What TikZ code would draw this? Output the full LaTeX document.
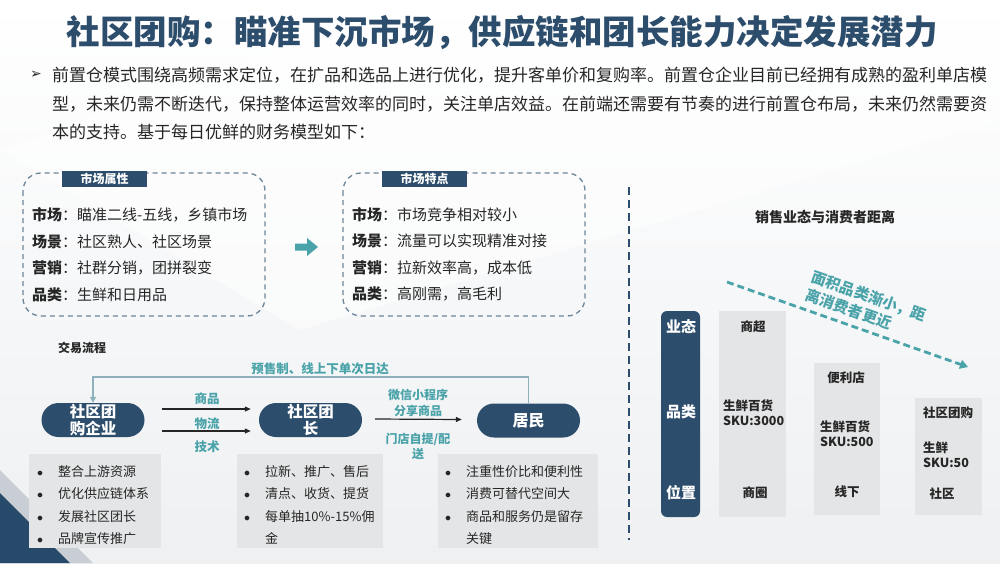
\documentclass[tikz,border=0pt]{standalone}
\usepackage{fontspec}
\setmainfont{Noto Sans CJK SC}
\newfontfamily\dejavu{DejaVu Sans}
\usetikzlibrary{arrows.meta,calc}
\definecolor{navy}{HTML}{2C4D6C}
\definecolor{tealc}{HTML}{4AA3A9}
\definecolor{dashc}{HTML}{6D8599}
\definecolor{fbline}{HTML}{8EB1BB}
\definecolor{grayfill}{HTML}{E4E5E6}
\definecolor{txt}{HTML}{262626}
\definecolor{bgc}{HTML}{EEF0F2}
\definecolor{bandc}{HTML}{C9CED4}
\definecolor{darkc}{HTML}{27496A}
\newcommand\myblt{$\bullet$}
\begin{document}
\begin{tikzpicture}[x=1pt,y=-1pt,
  dashbox/.style={draw=dashc, line width=1.3pt, dash pattern=on 5pt off 4pt, rounded corners=18pt},
  hdr/.style={fill=navy, text=white, font=\fontsize{12}{12}\selectfont\bfseries, minimum width=85pt, minimum height=16pt, inner sep=0pt},
  boxtxt/.style={text=txt, font=\fontsize{15}{26.5}\selectfont, align=left, inner sep=0pt, anchor=west},
  pill/.style={fill=navy, text=white, rounded corners=17pt, minimum width=103pt, minimum height=34pt, inner sep=0pt, align=center, font=\fontsize{15.5}{17}\selectfont\bfseries},
  lbl/.style={text=tealc, font=\fontsize{12.5}{16}\selectfont\bfseries, align=center, inner sep=0pt},
  flowarr/.style={draw=txt, line width=1.2pt, -{Triangle[length=6pt,width=5pt]}},
  grayb/.style={fill=grayfill},
  blist/.style={text=txt, font=\fontsize{13}{22.4}\selectfont, inner sep=0pt, anchor=west},
  colb/.style={fill=grayfill},
  coltxt/.style={text=txt, font=\fontsize{12.5}{15}\selectfont\bfseries, inner sep=0pt, align=left},
  axtxt/.style={text=white, font=\fontsize{15}{15}\selectfont\bfseries, inner sep=0pt}
]
\useasboundingbox (0,0) rectangle (1000,563);
% background
\shade[top color=white, bottom color=bgc] (0,0) rectangle (1000,563);
\fill[white, opacity=0.5] (0,150) -- (420,0) -- (1000,0) -- (1000,120) -- (300,330) -- cycle;
\fill[bandc] (0,470) -- (93,563) -- (0,563) -- cycle;
\fill[darkc] (0,493) -- (70,563) -- (0,563) -- cycle;

% title
\node[text=navy, font=\fontsize{33.5}{36}\selectfont\bfseries, inner sep=0pt] (title) at (502,33) {社区团购：瞄准下沉市场，供应链和团长能力决定发展潜力};
% paragraph
\node[text=txt, font=\fontsize{14}{14}\selectfont\dejavu, inner sep=0pt] (pm) at (36,75) {➢};
\node[text=txt, font=\fontsize{17}{28.5}\selectfont, align=left, inner sep=0pt, anchor=west] (para) at (52,103.5)
 {前置仓模式围绕高频需求定位，在扩品和选品上进行优化，提升客单价和复购率。前置仓企业目前已经拥有成熟的盈利单店模\\
  型，未来仍需不断迭代，保持整体运营效率的同时，关注单店效益。在前端还需要有节奏的进行前置仓布局，未来仍然需要资\\
  本的支持。基于每日优鲜的财务模型如下：};

% market boxes
\draw[dashbox] (23,173) rectangle (265,316);
\node[hdr] (h1) at (104.5,179) {市场属性};
\node[boxtxt] (bt1) at (32,254.5) {\textbf{市场}：瞄准二线-五线，乡镇市场\\\textbf{场景}：社区熟人、社区场景\\\textbf{营销}：社群分销，团拼裂变\\\textbf{品类}：生鲜和日用品};
\draw[dashbox] (343,173) rectangle (585,316);
\node[hdr] (h2) at (424.5,179) {市场特点};
\node[boxtxt] (bt2) at (352,254.5) {\textbf{市场}：市场竞争相对较小\\\textbf{场景}：流量可以实现精准对接\\\textbf{营销}：拉新效率高，成本低\\\textbf{品类}：高刚需，高毛利};
\fill[tealc] (295,243.5) -- (307,243.5) -- (307,238) -- (318,247) -- (307,256) -- (307,250.5) -- (295,250.5) -- cycle;

% flow
\node[text=txt, font=\fontsize{12}{12}\selectfont\bfseries, inner sep=0pt, anchor=west] (jl) at (58,348) {交易流程};
\node[pill] (p1) at (93,420) {社区团\\购企业};
\node[pill] (p2) at (310.5,420) {社区团\\长};
\node[pill, font=\fontsize{16}{17}\selectfont\bfseries] (p3) at (528.5,420.5) {居民};
\draw[fbline, line width=1.3pt, -{Triangle[length=6pt,width=6pt]}] (p3.north) -- (p3.north |- 0,377) -- (p1.north |- 0,377) -- (p1.north);
\node[lbl] (fbl) at (320,369) {预售制、线上下单次日达};
\draw[flowarr] ($(p1.east)+(17,-11)$) -- ($(p2.west)+(-8,-11)$);
\draw[flowarr] ($(p1.east)+(17,11)$) -- ($(p2.west)+(-8,11)$);
\draw[flowarr] ($(p2.east)+(13,-1)$) -- ($(p3.west)+(-15,-1)$);
\node[lbl] (l1) at (207,399) {商品};
\node[lbl] (l2) at (207,424) {物流};
\node[lbl] (l3) at (207,447) {技术};
\node[lbl, font=\fontsize{12}{16}\selectfont\bfseries] (l4) at (418,403) {微信小程序\\分享商品};
\node[lbl, font=\fontsize{12}{15}\selectfont\bfseries] (l5) at (418,446) {门店自提/配\\送};

% bottom gray boxes
\fill[grayb] (29,454) rectangle (161,548);
\fill[grayb] (237,454) rectangle (383,548);
\fill[grayb] (438,454) rectangle (598,548);
\node[blist] (bl1) at (37,505.5) {\begin{tabular}{@{}l@{\hspace{15pt}}l@{}}\myblt & 整合上游资源\\ \myblt & 优化供应链体系\\ \myblt & 发展社区团长\\ \myblt & 品牌宣传推广\end{tabular}};
\node[blist] (bl2) at (244,505.5) {\begin{tabular}{@{}l@{\hspace{15pt}}l@{}}\myblt & 拉新、推广、售后\\ \myblt & 清点、收货、提货\\ \myblt & 每单抽10\%-15\%佣\\ & 金\end{tabular}};
\node[blist] (bl3) at (445,505.5) {\begin{tabular}{@{}l@{\hspace{15pt}}l@{}}\myblt & 注重性价比和便利性\\ \myblt & 消费可替代空间大\\ \myblt & 商品和服务仍是留存\\ & 关键\end{tabular}};

% right side
\draw[navy, line width=2pt, dash pattern=on 8pt off 5pt] (629,187) -- (629,540);
\node[text=txt, font=\fontsize{14}{14}\selectfont\bfseries, inner sep=0pt] (rt) at (825,217) {销售业态与消费者距离};
\fill[navy, rounded corners=6pt] (661,311) rectangle (700,517);
\node[axtxt] (ax1) at (681,327) {业态};
\node[axtxt] (ax2) at (681,412) {品类};
\node[axtxt] (ax3) at (681,493) {位置};
\fill[colb] (719,311) rectangle (786,517);
\fill[colb] (814,363) rectangle (880,515);
\fill[colb] (915,398) rectangle (982,515);
\node[coltxt] (c1a) at (753,327) {商超};
\node[coltxt, anchor=west] (c1b) at (723,412.5) {生鲜百货\\SKU:3000};
\node[coltxt] (c1c) at (755,493) {商圈};
\node[coltxt] (c2a) at (846,378) {便利店};
\node[coltxt, anchor=west] (c2b) at (820,433.5) {生鲜百货\\SKU:500};
\node[coltxt] (c2c) at (847,492) {线下};
\node[coltxt] (c3a) at (948,413) {社区团购};
\node[coltxt, anchor=west] (c3b) at (923,454.5) {生鲜\\SKU:50};
\node[coltxt] (c3c) at (942,494) {社区};
\coordinate (ts) at (727,282);
\coordinate (te) at (968,367);
\draw[tealc, line width=2.8pt, dash pattern=on 7pt off 4pt, -{Triangle[length=8pt,width=9pt]}] (ts) -- (te);
\node[text=tealc, font=\fontsize{15}{18.5}\selectfont\bfseries, align=left, inner sep=0pt, rotate=-19.4] (tl) at (866,305) {面积品类渐小，距\\离消费者更近};
\end{tikzpicture}
\end{document}
